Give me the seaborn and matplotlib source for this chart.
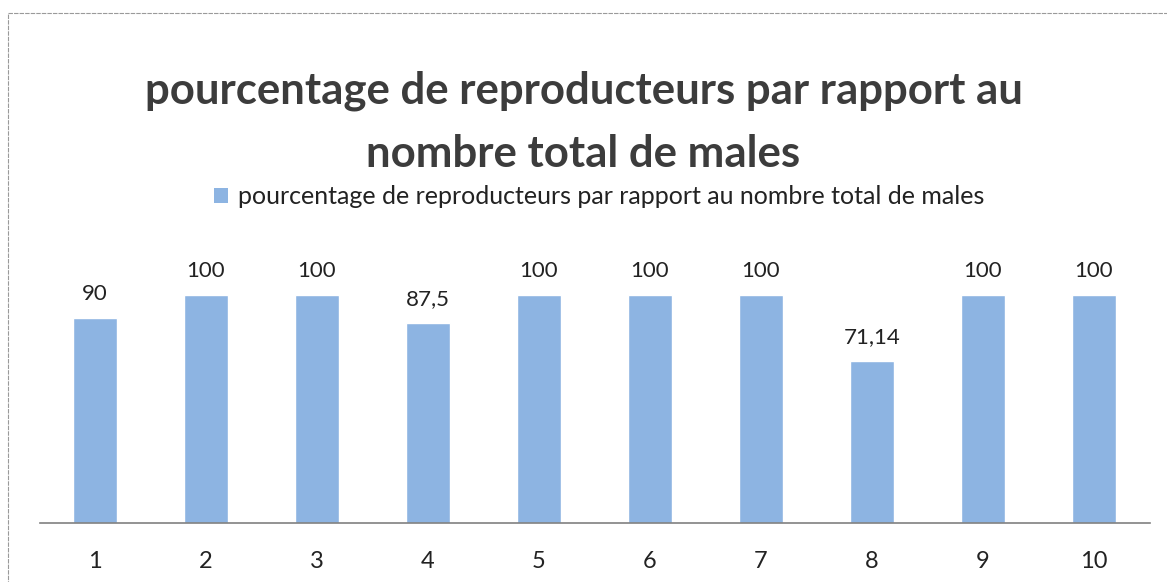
import matplotlib
matplotlib.use("Agg")
import matplotlib.pyplot as plt
import seaborn as sns
import pandas as pd
from matplotlib.patches import Rectangle, Patch

categories = ["1", "2", "3", "4", "5", "6", "7", "8", "9", "10"]
values = [90, 100, 100, 87.5, 100, 100, 100, 71.14, 100, 100]
value_labels = ["90", "100", "100", "87,5", "100", "100", "100", "71,14", "100", "100"]
title = "pourcentage de reproducteurs par rapport au\nnombre total de males"
series_name = "pourcentage de reproducteurs par rapport au nombre total de males"

sns.set_theme(style="white")
plt.rcParams["font.family"] = ["Lato", "DejaVu Sans"]

bar_color = "#8DB4E2"
text_color = "#3c3c3c"

df = pd.DataFrame({"cat": categories, "val": values})

fig = plt.figure(figsize=(11.67, 5.82), dpi=100)
ax = fig.add_axes([39.5 / 1167, (582 - 523) / 582, 1110 / 1167, 274 / 582])

sns.barplot(data=df, x="cat", y="val", color=bar_color, width=0.4,
            saturation=1, ax=ax, order=categories)

ax.set_xlim(-0.5, 9.5)
ax.set_ylim(0, 120)
for s in ["top", "right", "left"]:
    ax.spines[s].set_visible(False)
ax.spines["bottom"].set_color("#808080")
ax.spines["bottom"].set_linewidth(1.2)
ax.set_yticks([])
ax.set_xlabel("")
ax.set_ylabel("")
ax.tick_params(axis="x", length=0, pad=20, labelsize=17, labelcolor="#222222")

ax.bar_label(ax.containers[0], labels=value_labels, padding=10,
             fontsize=16, color="#222222")

fig.text(0.5, 1 - 122 / 582, title, ha="center", va="center", fontsize=31.5,
         fontweight="bold", color=text_color, linespacing=1.7)

handle = Patch(facecolor=bar_color, edgecolor="none")
fig.legend([handle], [series_name], loc="center", bbox_to_anchor=(599 / 1167, 1 - 197 / 582),
           frameon=False, fontsize=18, handlelength=0.55, handleheight=0.55,
           handletextpad=0.4, labelcolor="#222222")

border = Rectangle((8 / 1167, -0.1), 1.2, (582 - 13) / 582 + 0.1,
                   transform=fig.transFigure, fill=False,
                   edgecolor="#9a9a9a", linewidth=0.8, linestyle=(0, (4, 1)))
fig.patches.append(border)

fig.savefig("out.png", dpi=100)
